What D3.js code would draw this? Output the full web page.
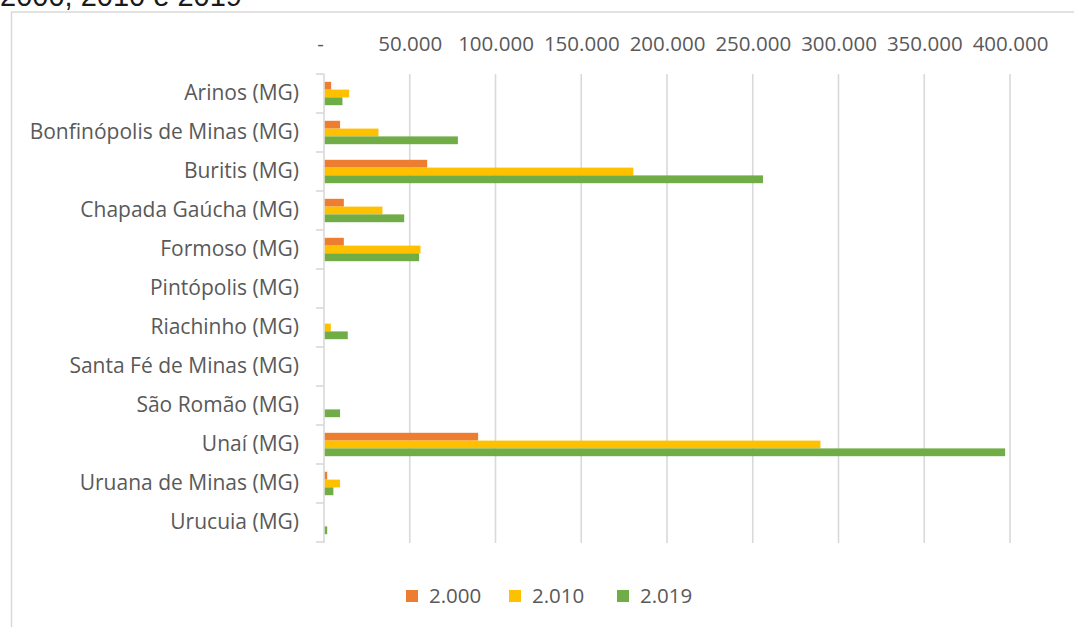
<!DOCTYPE html>
<html>
<head>
<meta charset="utf-8">
<script src="https://cdn.jsdelivr.net/npm/d3@7"></script>
<style>
    body { margin: 0; background: #fff; }
    svg { display: block; }
</style>
</head>
<body>
<div id="chart"></div>
<script>
const categories = [
    "Arinos (MG)", "Bonfinópolis de Minas (MG)", "Buritis (MG)", "Chapada Gaúcha (MG)",
    "Formoso (MG)", "Pintópolis (MG)", "Riachinho (MG)", "Santa Fé de Minas (MG)",
    "São Romão (MG)", "Unaí (MG)", "Uruana de Minas (MG)", "Urucuia (MG)"
];
const seriesNames = ["2.000", "2.010", "2.019"];
const values2000 = [3700, 8900, 59700, 11100, 11100, 0, 0, 0, 0, 89400, 1400, 0];
const values2010 = [14200, 31300, 179900, 33600, 55800, 0, 3500, 0, 0, 289000, 8900, 0];
const values2019 = [10300, 77600, 255500, 46300, 55000, 0, 13400, 0, 8900, 396700, 5000, 1400];
const tickValues = [0, 50000, 100000, 150000, 200000, 250000, 300000, 350000, 400000];
const colors = ["#ED7D31", "#FFC000", "#70AD47"];

const width = 1074, height = 627;
const font = "'Open Sans', sans-serif";
const textColor = "#595959";
const gridColor = "#d9d9d9";

const svg = d3.select("#chart")
    .append("svg")
    .attr("width", width)
    .attr("height", height)
    .attr("viewBox", `0 0 ${width} ${height}`)
    .style("font-family", font);

// title line cut off by the top of the picture
svg.append("text")
    .attr("x", 0)
    .attr("y", 6)
    .attr("font-family", "'Liberation Sans', Arial, sans-serif")
    .attr("font-size", 29)
    .attr("fill", "#1a1a1a")
    .text("2000, 2010 e 2019");

// chart area border
svg.append("rect")
    .attr("x", 11.5)
    .attr("y", 12)
    .attr("width", 1100)
    .attr("height", 700)
    .attr("fill", "none")
    .attr("stroke", gridColor)
    .attr("stroke-width", 1.5);

const x = d3.scaleLinear().domain([0, 400000]).range([324, 1010]);
const y = d3.scaleBand().domain(categories).range([74, 542]);
const ySeries = d3.scaleBand().domain(seriesNames)
    .range([0, y.bandwidth()])
    .paddingOuter(1);

const br = d3.formatLocale({decimal: ",", thousands: ".", grouping: [3], currency: ["R$", ""]});
const fmt = br.format(",.0f");

// gridlines
svg.append("g")
    .selectAll("line")
    .data(tickValues)
    .join("line")
    .attr("x1", d => x(d))
    .attr("x2", d => x(d))
    .attr("y1", y.range()[0])
    .attr("y2", y.range()[1] + 1)
    .attr("stroke", gridColor)
    .attr("stroke-width", 1.6);

// top value axis (labels only)
const xAxis = svg.append("g")
    .attr("transform", `translate(0,${y.range()[0]})`)
    .call(d3.axisTop(x).tickValues(tickValues).tickSize(0).tickPadding(23)
        .tickFormat(d => d === 0 ? "-" : fmt(d)));
xAxis.select(".domain").remove();
xAxis.selectAll("text")
    .attr("font-family", font)
    .attr("font-size", 20.5)
    .attr("fill", textColor)
    .attr("dx", d => d === 0 ? -4 : 0);

// category axis
const yAxis = svg.append("g")
    .attr("transform", `translate(${x(0)},0)`)
    .call(d3.axisLeft(y).tickSize(0).tickPadding(25));
yAxis.select(".domain").remove();
yAxis.selectAll("text")
    .attr("font-family", font)
    .attr("font-size", 21)
    .attr("fill", textColor);

const boundaries = categories.map(c => y(c)).concat([y.range()[1]]);
svg.append("g")
    .selectAll("line")
    .data(boundaries)
    .join("line")
    .attr("x1", x(0) - 8)
    .attr("x2", x(0))
    .attr("y1", d => d)
    .attr("y2", d => d)
    .attr("stroke", gridColor)
    .attr("stroke-width", 1.6);

// bars
const seriesData = [values2000, values2010, values2019];
const groups = svg.append("g")
    .selectAll("g")
    .data(seriesNames)
    .join("g")
    .attr("fill", (d, i) => colors[i]);

groups.selectAll("rect")
    .data((s, i) => categories.map((c, j) => ({cat: c, series: s, value: seriesData[i][j]})))
    .join("rect")
    .filter(d => d.value > 0)
    .attr("x", x(0) + 0.8)
    .attr("y", d => y(d.cat) + ySeries(d.series))
    .attr("width", d => Math.max(0, x(d.value) - x(0)))
    .attr("height", ySeries.bandwidth());

// legend
const legendX = [406, 509, 617];
const legend = svg.append("g")
    .selectAll("g")
    .data(seriesNames)
    .join("g")
    .attr("transform", (d, i) => `translate(${legendX[i]},590)`);
legend.append("rect")
    .attr("width", 12)
    .attr("height", 12)
    .attr("fill", (d, i) => colors[i]);
legend.append("text")
    .attr("x", 23)
    .attr("y", 13)
    .attr("font-size", 20.5)
    .attr("fill", textColor)
    .text(d => d);
</script>
</body>
</html>
